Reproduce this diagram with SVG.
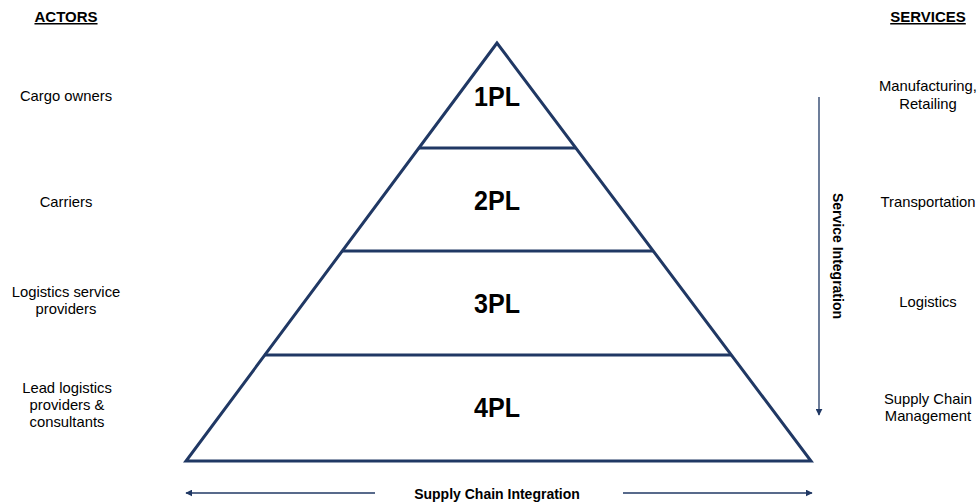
<svg xmlns="http://www.w3.org/2000/svg" width="980" height="503" viewBox="0 0 980 503">
<defs>
<style>
.lbl{font-family:"Liberation Sans",Arial,sans-serif;font-size:14.8px;fill:#000;text-anchor:middle}
.hdr{font-family:"Liberation Sans",Arial,sans-serif;font-size:15px;font-weight:bold;fill:#000;text-anchor:middle;text-decoration:underline}
.pl{font-family:"Liberation Sans",Arial,sans-serif;font-size:27px;font-weight:bold;fill:#000;text-anchor:middle}
.axis{font-family:"Liberation Sans",Arial,sans-serif;font-size:14px;font-weight:bold;fill:#000;text-anchor:middle}
.tri{fill:none;stroke:#203864;stroke-width:3;stroke-linejoin:miter}
.arr{fill:none;stroke:#203864;stroke-width:1.3}
</style>
<marker id="ah" viewBox="0 0 10 10" refX="9" refY="5" markerWidth="7" markerHeight="7" markerUnits="userSpaceOnUse" orient="auto">
<path d="M0,0 L10,5 L0,10 Z" fill="#203864"/>
</marker>
</defs>
<rect width="980" height="503" fill="#fff"/>
<g id="headers">
<text class="hdr" x="66" y="22">ACTORS</text>
<text class="hdr" x="928" y="22">SERVICES</text>
</g>
<g id="pyramid">
<polygon class="tri" points="497,43 186,461 811,461"/>
<line class="tri" x1="419" y1="148" x2="576" y2="148"/>
<line class="tri" x1="342" y1="251" x2="653" y2="251"/>
<line class="tri" x1="264" y1="355" x2="731" y2="355"/>
</g>
<g id="level-1pl"><text class="pl" x="497" y="106" textLength="46" lengthAdjust="spacingAndGlyphs">1PL</text></g>
<g id="level-2pl"><text class="pl" x="497" y="210" textLength="46" lengthAdjust="spacingAndGlyphs">2PL</text></g>
<g id="level-3pl"><text class="pl" x="497" y="313" textLength="46" lengthAdjust="spacingAndGlyphs">3PL</text></g>
<g id="level-4pl"><text class="pl" x="497" y="417" textLength="46" lengthAdjust="spacingAndGlyphs">4PL</text></g>
<g id="actor-cargo"><text class="lbl" x="66" y="101">Cargo owners</text></g>
<g id="actor-carriers"><text class="lbl" x="66" y="207">Carriers</text></g>
<g id="actor-lsp"><text class="lbl" x="66" y="297">Logistics service</text><text class="lbl" x="66" y="314">providers</text></g>
<g id="actor-lead"><text class="lbl" x="67" y="393">Lead logistics</text><text class="lbl" x="67" y="410">providers &amp;</text><text class="lbl" x="67" y="427">consultants</text></g>
<g id="service-manufacturing"><text class="lbl" x="928" y="91">Manufacturing,</text><text class="lbl" x="928" y="109">Retailing</text></g>
<g id="service-transport"><text class="lbl" x="928" y="207">Transportation</text></g>
<g id="service-logistics"><text class="lbl" x="928" y="307">Logistics</text></g>
<g id="service-scm"><text class="lbl" x="928" y="404">Supply Chain</text><text class="lbl" x="928" y="421">Management</text></g>
<g id="connectors">
<line class="arr" x1="819" y1="97" x2="819" y2="415" marker-end="url(#ah)"/>
<line class="arr" x1="375" y1="493" x2="186" y2="493" marker-end="url(#ah)"/>
<line class="arr" x1="623" y1="493" x2="812" y2="493" marker-end="url(#ah)"/>
</g>
<g id="axis-labels">
<text class="axis" transform="translate(833,256) rotate(90)" x="0" y="0">Service Integration</text>
<text class="axis" x="497" y="499">Supply Chain Integration</text>
</g>
</svg>
